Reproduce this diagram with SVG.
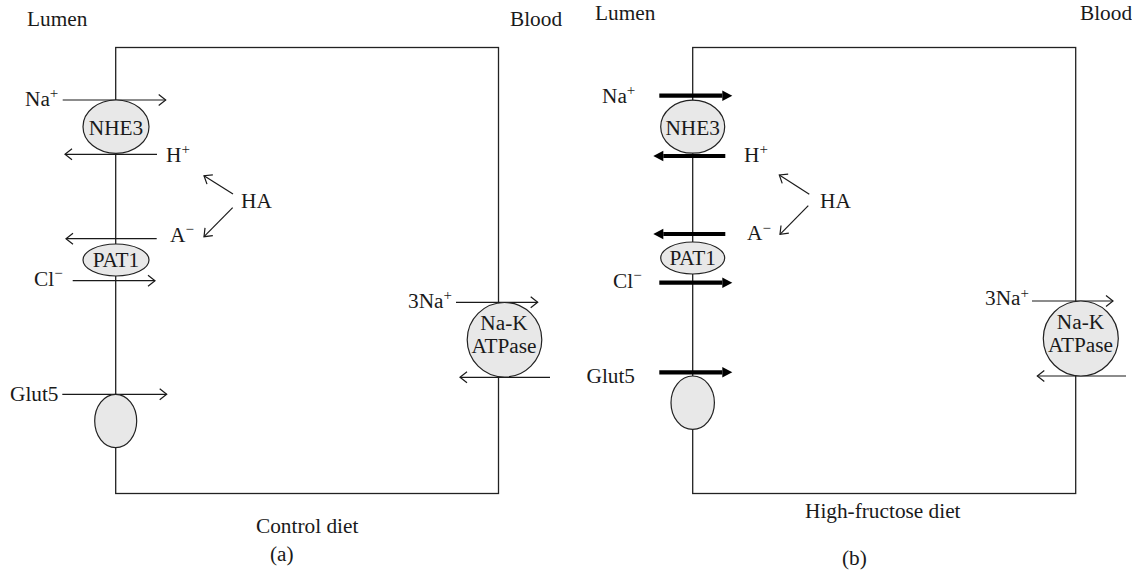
<svg xmlns="http://www.w3.org/2000/svg" width="1132" height="573" viewBox="0 0 1132 573">
<style>
text{font-family:"Liberation Serif","Times New Roman",serif;font-size:21.3px;fill:#1a1a1a}
.mid{text-anchor:middle}
.sup{font-size:15px}
.cell{fill:none;stroke:#222;stroke-width:1.3}
.tp{fill:#e8e8e8;stroke:#222;stroke-width:1.2}
.thin{fill:none;stroke:#1a1a1a;stroke-width:1.2;marker-end:url(#open)}
.thick{fill:none;stroke:#000;stroke-width:4.2;marker-end:url(#solid)}
</style>
<defs>
<marker id="open" markerUnits="userSpaceOnUse" markerWidth="20" markerHeight="20" viewBox="-10 -10 20 20" refX="0" refY="0" orient="auto" overflow="visible">
<path d="M-7,-5.5 L0,0 L-7,5.5" fill="none" stroke="#1a1a1a" stroke-width="1.2"/>
</marker>
<marker id="solid" markerUnits="userSpaceOnUse" markerWidth="20" markerHeight="20" viewBox="-2 -10 20 20" refX="0" refY="0" orient="auto" overflow="visible">
<path d="M0,-5.2 L10,0 L0,5.2 Z" fill="#000"/>
</marker>
</defs>

<!-- Panel (a) -->
<g id="cell-a">
<rect class="cell" x="115.7" y="47.5" width="382.8" height="446"/>
</g>
<g id="labels-a">
<text x="27" y="25.5">Lumen</text>
<text x="510" y="25.5">Blood</text>
<text x="25" y="105.7">Na<tspan class="sup" dy="-7.5">+</tspan></text>
<text x="166" y="161.7">H<tspan class="sup" dy="-7.5">+</tspan></text>
<text x="241" y="208">HA</text>
<text x="170" y="241.7">A<tspan class="sup" dy="-7.5">−</tspan></text>
<text x="34" y="285.7">Cl<tspan class="sup" dy="-7.5">−</tspan></text>
<text x="10" y="400.7">Glut5</text>
<text x="408" y="307.7">3Na<tspan class="sup" dy="-7.5">+</tspan></text>
<text x="256" y="533.3">Control diet</text>
<text x="270" y="561">(a)</text>
</g>
<g id="connectors-a">
<path class="thin" d="M62.7,100 H165.7"/>
<path class="thin" d="M157,154.3 H65"/>
<path class="thin" d="M233,194 L204,175.7"/>
<path class="thin" d="M232.7,207.7 L204,236.7"/>
<path class="thin" d="M156.7,238.7 H66"/>
<path class="thin" d="M72.7,280.7 H155"/>
<path class="thin" d="M62.3,394.3 H166.7"/>
<path class="thin" d="M456,302.3 H537.7"/>
<path class="thin" d="M550,377.3 H460"/>
</g>
<g id="nhe3-a">
<ellipse class="tp" cx="116" cy="126.7" rx="33" ry="26.7"/>
<text class="mid" x="116" y="134.5">NHE3</text>
</g>
<g id="pat1-a">
<ellipse class="tp" cx="116" cy="260" rx="33" ry="16"/>
<text class="mid" x="116" y="267">PAT1</text>
</g>
<g id="glut5-a">
<ellipse class="tp" cx="115.7" cy="421" rx="21" ry="26.7"/>
</g>
<g id="nak-a">
<circle class="tp" cx="504.5" cy="339.8" r="37.3"/>
<text class="mid" x="504" y="330">Na-K</text>
<text class="mid" x="504" y="352.7">ATPase</text>
</g>

<!-- Panel (b) -->
<g id="cell-b">
<rect class="cell" x="692.7" y="47.5" width="383" height="446"/>
</g>
<g id="labels-b">
<text x="595" y="20">Lumen</text>
<text x="1080" y="20">Blood</text>
<text x="602" y="102.7">Na<tspan class="sup" dy="-7.5">+</tspan></text>
<text x="744" y="161.7">H<tspan class="sup" dy="-7.5">+</tspan></text>
<text x="820" y="208.3">HA</text>
<text x="747" y="240">A<tspan class="sup" dy="-7.5">−</tspan></text>
<text x="613" y="287.7">Cl<tspan class="sup" dy="-7.5">−</tspan></text>
<text x="586.5" y="382.7">Glut5</text>
<text x="985" y="305">3Na<tspan class="sup" dy="-7.5">+</tspan></text>
<text x="805" y="517.7">High-fructose diet</text>
<text x="842" y="565">(b)</text>
</g>
<g id="connectors-b">
<path class="thick" d="M659.3,95.7 H722.3"/>
<path class="thick" d="M725.3,156 H663.3"/>
<path class="thin" d="M809.3,194.3 L779.3,175"/>
<path class="thin" d="M808.3,205.7 L780,234.3"/>
<path class="thick" d="M725.3,234 H663.3"/>
<path class="thick" d="M659.3,282.7 H722.3"/>
<path class="thick" d="M659.3,372.3 H722.3"/>
<path class="thin" d="M1032,301 H1113"/>
<path class="thin" d="M1126,376 H1037.3"/>
</g>
<g id="nhe3-b">
<ellipse class="tp" cx="692.7" cy="126.7" rx="32" ry="26.5"/>
<text class="mid" x="692.7" y="134.5">NHE3</text>
</g>
<g id="pat1-b">
<ellipse class="tp" cx="692.7" cy="258" rx="32" ry="16"/>
<text class="mid" x="692.7" y="265">PAT1</text>
</g>
<g id="glut5-b">
<ellipse class="tp" cx="692.7" cy="402.7" rx="21.7" ry="26.7"/>
</g>
<g id="nak-b">
<circle class="tp" cx="1080.8" cy="338.5" r="37.5"/>
<text class="mid" x="1080.5" y="329">Na-K</text>
<text class="mid" x="1080.5" y="351.7">ATPase</text>
</g>
</svg>
